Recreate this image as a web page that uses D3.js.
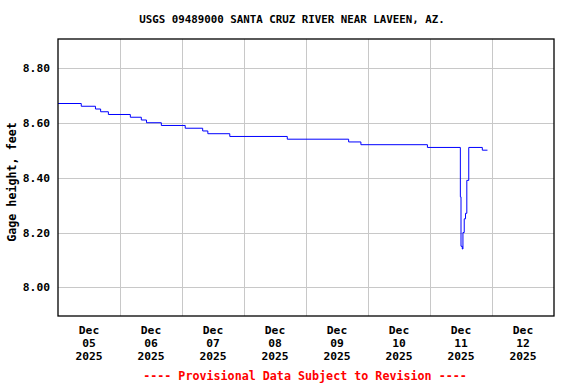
<!DOCTYPE html>
<html>
<head>
  <meta charset='utf-8'>
  <title>Santa Cruz River gage height</title>
  <script src="https://d3js.org/d3.v7.min.js"></script>
  <style>
    body { margin: 0; background: #fff; }
    text { font-family: 'DejaVu Sans Mono', monospace; font-weight: bold; }
  </style>
</head>
<body>
  <svg width=576 height=384></svg>
</body>
</html>

<script>

  // times where the stage changed, and the stage from then on (feet)
  let stepTimes = [
    '2025-12-05 00:00', '2025-12-05 09:00', '2025-12-05 14:30', '2025-12-05 16:30',
    '2025-12-05 19:30', '2025-12-06 04:00', '2025-12-06 08:15', '2025-12-06 10:15',
    '2025-12-06 16:00', '2025-12-07 01:15', '2025-12-07 08:00', '2025-12-07 10:00',
    '2025-12-07 18:30', '2025-12-08 16:45', '2025-12-09 16:30', '2025-12-09 21:15',
    '2025-12-10 23:00', '2025-12-11 11:45', '2025-12-11 12:00', '2025-12-11 12:30',
    '2025-12-11 12:45', '2025-12-11 13:15', '2025-12-11 13:45', '2025-12-11 14:15',
    '2025-12-11 15:00', '2025-12-11 20:15', '2025-12-11 22:15'
  ];
  let stepValues = [
    8.67, 8.66, 8.65, 8.64,
    8.63, 8.62, 8.61, 8.60,
    8.59, 8.58, 8.57, 8.56,
    8.55, 8.54, 8.53, 8.52,
    8.51, 8.33, 8.15, 8.14,
    8.20, 8.25, 8.27, 8.39,
    8.51, 8.50, 8.50
  ];

  let yTicks = [8.00, 8.20, 8.40, 8.60, 8.80];
  let dayTicks = ['2025-12-05', '2025-12-06', '2025-12-07', '2025-12-08',
                  '2025-12-09', '2025-12-10', '2025-12-11', '2025-12-12'];

  let titleText = 'USGS 09489000 SANTA CRUZ RIVER NEAR LAVEEN, AZ.';
  let yLabel = 'Gage height, feet';
  let footText = '---- Provisional Data Subject to Revision ----';

  let parseTime = d3.timeParse('%Y-%m-%d %H:%M');
  let parseDay = d3.timeParse('%Y-%m-%d');

  let data = stepTimes.map((t, i) => ({ t: parseTime(t), v: stepValues[i] }));

  let plotL = 58, plotR = 554, plotT = 39, plotB = 316;

  let x = d3.scaleTime()
    .domain([parseDay('2025-12-05'), parseDay('2025-12-13')])
    .range([plotL, plotR]);

  let y = d3.scaleLinear()
    .domain([7.896, 8.905])
    .range([plotB, plotT]);

  let svg = d3.select('svg');

  // grid
  let days = d3.timeDay.range(parseDay('2025-12-06'), parseDay('2025-12-13'));
  svg.append('g')
    .selectAll('line')
    .data(days)
    .enter()
      .append('line')
      .attr('x1', d => Math.round(x(d)) + 0.5)
      .attr('x2', d => Math.round(x(d)) + 0.5)
      .attr('y1', plotT)
      .attr('y2', plotB)
      .attr('stroke', '#c8c8c8');

  svg.append('g')
    .selectAll('line')
    .data(yTicks)
    .enter()
      .append('line')
      .attr('x1', plotL)
      .attr('x2', plotR)
      .attr('y1', d => Math.round(y(d)) + 0.5)
      .attr('y2', d => Math.round(y(d)) + 0.5)
      .attr('stroke', '#c8c8c8');

  // stage line
  let line = d3.line()
    .x(d => x(d.t))
    .y(d => y(d.v))
    .curve(d3.curveStepAfter);

  svg.append('path')
    .datum(data)
    .attr('d', line)
    .attr('fill', 'none')
    .attr('stroke', '#0000ff')
    .attr('stroke-width', 1);

  // frame
  svg.append('rect')
    .attr('x', plotL)
    .attr('y', plotT)
    .attr('width', plotR - plotL)
    .attr('height', plotB - plotT)
    .attr('fill', 'none')
    .attr('stroke', '#000')
    .attr('stroke-width', 1.3);

  // y tick labels
  svg.append('g')
    .selectAll('text')
    .data(yTicks)
    .enter()
      .append('text')
      .attr('x', 50)
      .attr('y', d => y(d) + 4)
      .attr('text-anchor', 'end')
      .attr('font-size', '11.3px')
      .text(d => d3.format('.2f')(d));

  // x tick labels (centred at noon)
  let fmt = [d3.timeFormat('%b'), d3.timeFormat('%d'), d3.timeFormat('%Y')];
  let xl = svg.append('g')
    .selectAll('text')
    .data(dayTicks.map(parseDay))
    .enter()
      .append('text')
      .attr('text-anchor', 'middle')
      .attr('font-size', '11.3px');
  fmt.forEach((f, i) => {
    xl.append('tspan')
      .attr('x', d => x(d3.timeHour.offset(d, 12)))
      .attr('y', 334 + i * 13)
      .text(d => f(d));
  });

  // title, axis label, footer
  svg.append('text')
    .attr('x', 292)
    .attr('y', 23)
    .attr('text-anchor', 'middle')
    .attr('font-size', '10.8px')
    .text(titleText);

  svg.append('text')
    .attr('transform', 'translate(16,' + (182) + ') rotate(-90)')
    .attr('text-anchor', 'middle')
    .attr('font-size', '11.7px')
    .text(yLabel);

  svg.append('text')
    .attr('x', 305)
    .attr('y', 380)
    .attr('text-anchor', 'middle')
    .attr('font-size', '11.7px')
    .attr('fill', '#ff0000')
    .text(footText);

</script>
